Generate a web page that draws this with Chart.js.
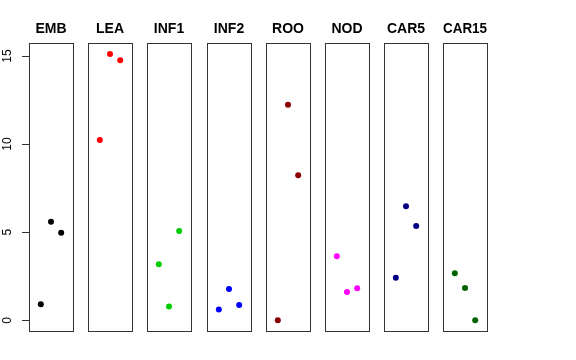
<!DOCTYPE html>
<html>
<head>
<meta charset="utf-8">
<script src="https://cdn.jsdelivr.net/npm/chart.js@4"></script>
<style>
  body { margin: 0; background: #fff; }
  #wrap { position: relative; width: 576px; height: 360px; background: #fff; }
  #wrap canvas { position: absolute; top: 0; }
</style>
</head>
<body>
<div id="wrap"></div>
<script>
// groups and their three replicate values (plotted at x = 1, 2, 3)
const categories = ['EMB', 'LEA', 'INF1', 'INF2', 'ROO', 'NOD', 'CAR5', 'CAR15'];
const embValues = [0.91, 5.6, 4.97];
const leaValues = [10.23, 15.11, 14.76];
const inf1Values = [3.18, 0.79, 5.07];
const inf2Values = [0.62, 1.78, 0.87];
const rooValues = [0.0, 12.24, 8.23];
const nodValues = [3.63, 1.61, 1.82];
const car5Values = [2.42, 6.47, 5.35];
const car15Values = [2.67, 1.83, 0.0];
const replicates = [1, 2, 3];
const yTicks = [0, 5, 10, 15];

const groupValues = [embValues, leaValues, inf1Values, inf2Values, rooValues, nodValues, car5Values, car15Values];
const colors = ['#000000', '#ff0000', '#00cd00', '#0000ff', '#8b0000', '#ff00ff', '#000080', '#006400'];

// shared y range like R's default 4% extension
const allVals = groupValues.flat();
const yLo = Math.min(...allVals), yHi = Math.max(...allVals);
const yPad = (yHi - yLo) * 0.04;

const panelBox = {
  id: 'panelBox',
  beforeDatasetsDraw(chart) {
    const a = chart.chartArea, ctx = chart.ctx;
    ctx.save();
    ctx.strokeStyle = '#333';
    ctx.lineWidth = 1;
    ctx.strokeRect(Math.round(a.left) + 0.5, Math.round(a.top) + 0.5,
      Math.round(a.right - a.left), Math.round(a.bottom - a.top));
    ctx.restore();
  }
};

const yAxisPlugin = {
  id: 'yAxisDraw',
  afterDraw(chart) {
    const y = chart.scales.y, ctx = chart.ctx;
    const left = Math.round(chart.chartArea.left);
    ctx.save();
    ctx.strokeStyle = '#333';
    ctx.fillStyle = '#000';
    ctx.lineWidth = 1;
    ctx.font = '12px "Liberation Sans", Arial, sans-serif';
    ctx.textAlign = 'center';
    ctx.textBaseline = 'middle';
    ctx.beginPath();
    ctx.moveTo(left + 0.5, Math.round(y.getPixelForValue(yTicks[0])) + 0.5);
    ctx.lineTo(left + 0.5, Math.round(y.getPixelForValue(yTicks[yTicks.length - 1])) + 0.5);
    yTicks.forEach(t => {
      const py = Math.round(y.getPixelForValue(t)) + 0.5;
      ctx.moveTo(left - 7, py);
      ctx.lineTo(left + 0.5, py);
    });
    ctx.stroke();
    yTicks.forEach(t => {
      const py = y.getPixelForValue(t);
      ctx.save();
      ctx.translate(8, py);
      ctx.rotate(-Math.PI / 2);
      ctx.fillText(String(t), 0, 0);
      ctx.restore();
    });
    ctx.restore();
  }
};

const wrap = document.getElementById('wrap');
const boxW = 44, sidePad = 15;

categories.forEach((name, i) => {
  const boxLeft = Math.round(29 + i * 59.2);
  const canvasLeft = i === 0 ? 0 : boxLeft - sidePad;
  const padLeft = boxLeft - canvasLeft;
  const canvas = document.createElement('canvas');
  canvas.width = padLeft + boxW + sidePad;
  canvas.height = 360;
  canvas.style.left = canvasLeft + 'px';
  wrap.appendChild(canvas);

  new Chart(canvas, {
    type: 'scatter',
    data: {
      datasets: [{
        label: name,
        data: replicates.map((r, k) => ({ x: r, y: groupValues[i][k] })),
        backgroundColor: colors[i],
        borderWidth: 0,
        pointRadius: 3,
        pointHoverRadius: 3
      }]
    },
    options: {
      responsive: false,
      animation: false,
      events: [],
      layout: { padding: { left: padLeft, right: sidePad, top: 0, bottom: 29 } },
      scales: {
        x: { type: 'linear', display: false, min: -0.16, max: 4.16 },
        y: { type: 'linear', display: false, min: yLo - yPad, max: yHi + yPad }
      },
      plugins: {
        legend: { display: false },
        tooltip: { enabled: false },
        title: {
          display: true,
          text: name,
          color: '#000',
          font: { family: '"Liberation Sans", Arial, sans-serif', size: 14, weight: 'bold', lineHeight: 1.2 },
          padding: { top: 20.6, bottom: 6.0 }
        }
      }
    },
    plugins: i === 0 ? [panelBox, yAxisPlugin] : [panelBox]
  });
});
</script>
</body>
</html>
